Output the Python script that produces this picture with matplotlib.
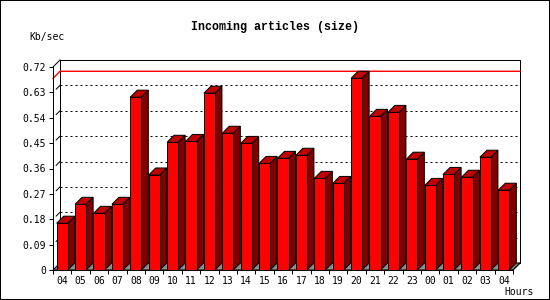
#!/usr/bin/env python3
"""
Incoming articles (size) - barras pseudo 3D por hora.
"""

import matplotlib
matplotlib.use('Agg')
import matplotlib.pyplot as plt
from matplotlib.patches import Polygon, Rectangle
import numpy as np

# ============================================================================
# DATOS
# ============================================================================

horas = ['04', '05', '06', '07', '08', '09', '10', '11', '12', '13', '14', '15',
         '16', '17', '18', '19', '20', '21', '22', '23', '00', '01', '02', '03', '04']
kb_sec = [0.166, 0.233, 0.201, 0.233, 0.613, 0.337, 0.453, 0.456, 0.627, 0.485,
          0.449, 0.378, 0.396, 0.407, 0.325, 0.307, 0.680, 0.545, 0.559, 0.393,
          0.300, 0.339, 0.329, 0.400, 0.283]
niveles = [0, 0.09, 0.18, 0.27, 0.36, 0.45, 0.54, 0.63, 0.72]
etiquetas_y = ['0', '0.09', '0.18', '0.27', '0.36', '0.45', '0.54', '0.63', '0.72']

# ============================================================================
# ESTILO
# ============================================================================

W, H, DPI = 550, 300, 100
PX = 72.0 / DPI            # 1 pixel en puntos
PROF_PX = 7                # profundidad 3D en pixeles
ROJO = '#ff0000'
LADO = '#800000'
TECHO = '#c00000'
SUELO = '#8c8c8c'
FUENTE = 'DejaVu Sans Mono'


def main():
    fig = plt.figure(figsize=(W / DPI, H / DPI), dpi=DPI)
    fig.patch.set_facecolor('white')
    fig.patch.set_edgecolor('black')
    fig.patch.set_linewidth(2 * PX)

    # ejes del plano frontal (en pixeles: x 53..513, y 67..270)
    ax = fig.add_axes([53 / W, (H - 270) / H, 460 / W, 203 / H])
    n = len(kb_sec)
    ymax = niveles[-1]
    ax.set_xlim(0, n)
    ax.set_ylim(0, ymax)
    ax.set_facecolor('none')

    dx = PROF_PX * n / 460.0
    dy = PROF_PX * ymax / 203.0
    lw = PX

    # plano del fondo
    ax.add_patch(Rectangle((dx, dy), n, ymax, facecolor='white', edgecolor='black',
                           linewidth=lw, clip_on=False, zorder=0))
    # lineas de rejilla punteadas en el fondo
    for v in niveles[1:-1]:
        ax.plot([dx, n + dx], [v + dy, v + dy], color='black', linewidth=lw,
                linestyle=(0, (2, 3)), clip_on=False, zorder=1)
        ax.plot([dx * 0.45, dx], [v + dy * 0.45, v + dy], color='black',
                linewidth=lw, clip_on=False, zorder=1)
    # diagonal superior izquierda
    ax.plot([0, dx], [ymax, ymax + dy], color='black', linewidth=lw,
            clip_on=False, zorder=1)

    # linea del maximo (roja)
    m = max(kb_sec)
    ax.plot([0, dx, n + dx], [m, m + dy, m + dy], color=ROJO, linewidth=1.4 * PX,
            clip_on=False, zorder=2)

    # suelo
    ax.add_patch(Polygon([(0, 0), (n, 0), (n + dx, dy), (dx, dy)], closed=True,
                         facecolor=SUELO, edgecolor='black', linewidth=lw,
                         clip_on=False, zorder=2))

    # barras
    ancho = 0.6
    for i, v in enumerate(kb_sec):
        x0 = i + 0.2
        x1 = x0 + ancho
        ax.add_patch(Polygon([(x1, 0), (x1 + dx, dy), (x1 + dx, v + dy), (x1, v)],
                             closed=True, facecolor=LADO, edgecolor='black',
                             linewidth=lw, clip_on=False, zorder=3))
        ax.add_patch(Polygon([(x0, v), (x1, v), (x1 + dx, v + dy), (x0 + dx, v + dy)],
                             closed=True, facecolor=TECHO, edgecolor='black',
                             linewidth=lw, clip_on=False, zorder=3))
        ax.add_patch(Rectangle((x0, 0), ancho, v, facecolor=ROJO, edgecolor='black',
                               linewidth=lw, clip_on=False, zorder=4))

    # diagonal del extremo derecho del suelo
    ax.plot([n, n + dx], [0, dy], color='black', linewidth=lw, clip_on=False, zorder=5)

    # ejes
    for lado in ['top', 'right']:
        ax.spines[lado].set_visible(False)
    for lado in ['left', 'bottom']:
        ax.spines[lado].set_linewidth(lw)
        ax.spines[lado].set_zorder(6)

    ax.set_yticks(niveles)
    ax.set_yticklabels(etiquetas_y, fontfamily=FUENTE, fontsize=7)
    ax.tick_params(axis='y', length=4 * PX, width=lw, pad=3 * PX)

    ax.set_xticks(np.arange(n + 1))
    ax.set_xticklabels([])
    ax.set_xticks(np.arange(n) + 0.5, minor=True)
    ax.set_xticklabels(horas, minor=True, fontfamily=FUENTE, fontsize=7)
    ax.tick_params(axis='x', which='major', length=4 * PX, width=lw)
    ax.tick_params(axis='x', which='minor', length=0, pad=6 * PX)

    # textos
    fig.text(275 / W, 1 - 27 / H, 'Incoming articles (size)', ha='center', va='center',
             fontfamily='Liberation Mono', fontweight='bold', fontsize=8.4)
    fig.text(47 / W, 1 - 37 / H, 'Kb/sec', ha='center', va='center',
             fontfamily=FUENTE, fontsize=7)
    fig.text(519 / W, 1 - 292 / H, 'Hours', ha='center', va='center',
             fontfamily=FUENTE, fontsize=7)

    fig.savefig('out.png', dpi=DPI)


if __name__ == "__main__":
    main()
